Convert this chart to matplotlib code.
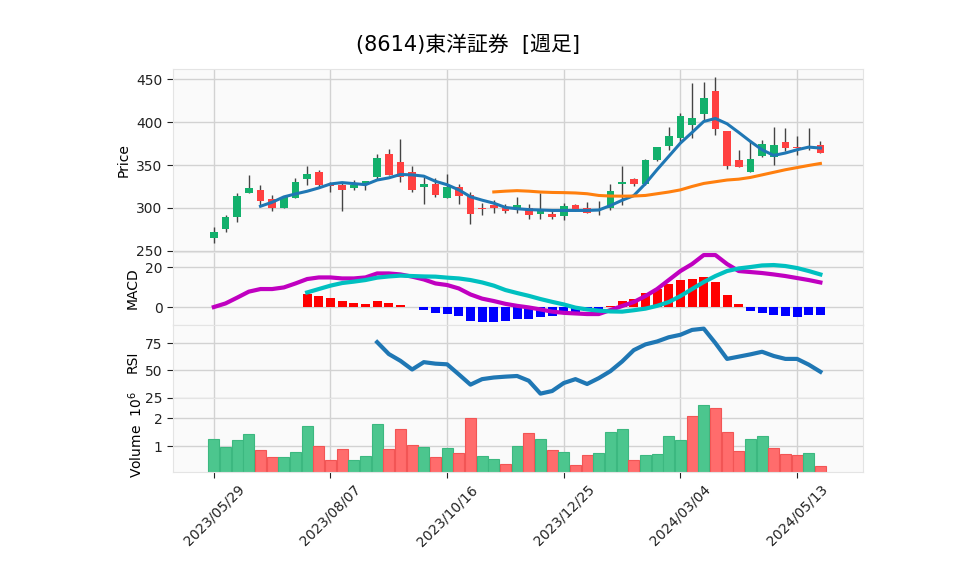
import numpy as np
import pandas as pd
import matplotlib
matplotlib.use("Agg")
import matplotlib.pyplot as plt

plt.rcParams['font.family'] = ['DejaVu Sans', 'Noto Sans CJK JP']

title = "(8614)東洋証券  [週足]"
start_date = "2023-05-29"

# weekly OHLC (yen)
opens = [265.1, 275.6, 289.5, 317.1, 321.3, 310.5, 299.6, 311.2, 333.3, 342.2,
         327.9, 326.4, 322.9, 326.3, 336.0, 363.1, 353.8, 342.2, 324.4, 327.9,
         312.0, 324.6, 315.5, 299.4, 302.9, 300.2, 298.8, 300.0, 292.6, 293.4,
         290.3, 303.5, 300.0, 296.0, 299.6, 327.7, 334.1, 327.5, 355.4, 372.6,
         381.2, 397.2, 409.3, 436.4, 389.9, 356.2, 341.5, 360.0, 359.7, 377.1,
         370.5, 370.2, 372.8]
highs = [277.9, 291.9, 317.4, 338.4, 326.7, 314.7, 312.4, 334.9, 349.2, 344.6,
         330.0, 329.8, 332.2, 331.8, 363.0, 368.6, 380.2, 349.2, 335.5, 334.9,
         339.5, 327.9, 318.6, 305.4, 309.0, 304.7, 312.8, 304.6, 317.4, 298.8,
         305.8, 304.5, 306.9, 308.0, 327.9, 349.0, 334.5, 356.5, 371.5, 394.9,
         410.5, 445.3, 446.5, 452.3, 389.9, 367.5, 379.0, 379.0, 394.9, 393.0,
         383.3, 392.9, 378.2]
lows = [258.5, 272.1, 283.7, 317.1, 301.9, 296.1, 299.6, 311.2, 326.4, 324.0,
        318.0, 296.9, 320.5, 320.6, 333.0, 337.9, 329.8, 318.2, 305.0, 312.4,
        312.0, 305.0, 281.6, 291.7, 294.6, 294.0, 294.2, 287.2, 287.6, 287.2,
        285.6, 296.0, 293.5, 292.0, 298.0, 303.1, 325.2, 326.5, 355.0, 367.8,
        375.6, 381.4, 402.7, 385.3, 345.3, 347.5, 341.5, 359.2, 350.3, 365.9,
        361.2, 367.0, 363.9]
closes = [272.1, 289.5, 314.3, 323.6, 307.8, 299.6, 312.4, 330.6, 339.9, 327.1,
          325.2, 320.5, 326.7, 331.7, 358.5, 338.0, 336.5, 320.3, 328.0, 314.9,
          324.8, 313.6, 292.5, 299.0, 299.6, 296.1, 303.5, 292.2, 298.0, 289.1,
          302.7, 297.3, 293.8, 296.8, 320.2, 330.6, 327.9, 356.2, 371.1, 383.9,
          407.4, 404.8, 428.1, 391.6, 348.4, 348.2, 357.0, 374.8, 373.2, 369.7,
          369.3, 370.5, 363.9]
# volume in millions of shares
volumes = [1.27, 0.96, 1.24, 1.43, 0.88, 0.63, 0.63, 0.81, 1.71, 1.02,
           0.52, 0.92, 0.52, 0.67, 1.81, 0.90, 1.63, 1.06, 0.99, 0.63,
           0.95, 0.77, 2.02, 0.64, 0.54, 0.36, 1.00, 1.46, 1.25, 0.86,
           0.79, 0.32, 0.68, 0.75, 1.50, 1.61, 0.50, 0.68, 0.71, 1.36,
           1.21, 2.07, 2.46, 2.36, 1.50, 0.82, 1.25, 1.36, 0.93, 0.71,
           0.68, 0.75, 0.29]

# indicator lines as drawn (each series ends at the last week)
ma5 = [301.9, 306.6, 312.8, 316.3, 319.4, 323.3, 327.9, 329.5, 328.3, 327.1,
       332.5, 335.0, 339.0, 338.5, 337.0, 331.0, 327.0, 321.0, 313.0, 309.0,
       305.5, 300.5, 299.0, 298.0, 297.5, 297.0, 297.0, 297.0, 297.0, 297.5,
       302.7, 308.9, 314.3, 328.3, 344.6, 360.1, 375.6, 388.0, 400.8, 404.3,
       398.1, 388.0, 377.5, 367.8, 361.2, 364.0, 367.8, 370.9, 369.8]
ma25 = [318.6, 319.5, 320.1, 319.5, 318.5, 318.0, 317.8, 317.4, 316.5, 314.5,
        313.8, 313.7, 313.8, 314.5, 316.5, 318.5, 321.0, 325.0, 328.5, 330.5,
        332.5, 333.5, 335.5, 338.5, 341.5, 344.5, 347.0, 349.5, 351.8]
macd = [0.0, 1.8, 4.7, 7.7, 9.0, 9.0, 9.8, 11.8, 14.0, 14.8,
        14.8, 14.3, 14.3, 14.8, 16.8, 16.8, 16.3, 15.2, 13.8, 11.8,
        11.0, 9.3, 6.3, 4.2, 3.0, 1.6, 0.6, -0.2, -1.2, -2.3,
        -2.9, -3.2, -3.5, -3.5, -1.5, 0.5, 2.5, 5.5, 9.0, 13.5,
        18.0, 21.5, 26.0, 26.0, 21.5, 18.0, 17.5, 17.0, 16.3, 15.5,
        14.5, 13.5, 12.3]
signal = [7.3, 9.0, 10.7, 12.0, 12.7, 13.5, 14.7, 15.3, 15.7, 15.5,
          15.3, 15.2, 14.7, 14.3, 13.5, 12.3, 10.7, 8.5, 7.0, 5.6,
          4.0, 2.6, 1.3, -0.3, -1.2, -1.8, -2.2, -2.3, -1.6, -0.8,
          0.6, 2.5, 5.5, 9.0, 12.5, 15.5, 18.0, 19.3, 20.0, 20.8,
          21.0, 20.5, 19.5, 18.0, 16.3]
hist = [6.7, 5.5, 4.5, 3.0, 2.2, 1.5, 3.0, 2.2, 1.2, -0.2,
        -1.5, -2.8, -3.3, -4.3, -6.8, -7.3, -7.3, -6.8, -6.0, -6.0,
        -4.8, -4.3, -3.0, -2.5, -2.0, -1.0, 0.5, 3.0, 4.0, 7.2,
        9.0, 11.5, 13.5, 14.0, 15.0, 12.5, 6.0, 1.5, -1.8, -2.8,
        -4.0, -4.3, -4.8, -3.8, -3.8]
rsi = [76.2, 65.2, 58.9, 50.9, 57.7, 56.3, 55.7, 46.4, 36.9, 42.0,
       43.5, 44.3, 44.9, 40.5, 28.6, 31.0, 38.4, 42.0, 37.5, 42.9,
       49.4, 58.3, 68.8, 74.1, 76.8, 80.7, 83.0, 87.5, 88.7, 75.3,
       60.7, 62.8, 64.9, 67.3, 63.4, 60.7, 60.7, 55.4, 48.8]

up_color = "#13b06c"
down_color = "#ff4040"
vol_up = "#4cc68e"
vol_down = "#ff6c6c"


def tail_x(series, n):
    # indicator series are aligned to the right end of the data
    return np.arange(n - len(series), n)


n = len(closes)
x = np.arange(n)
dates = pd.date_range(start_date, periods=n, freq="7D")

fig, axes = plt.subplots(4, 1, figsize=(9.58, 5.75), dpi=100, sharex=True,
                         gridspec_kw={"height_ratios": [183, 73, 73, 74], "hspace": 0})
fig.subplots_adjust(left=0.1806, right=0.9008, top=0.88, bottom=0.179)
ax_p, ax_m, ax_r, ax_v = axes

for ax in axes:
    ax.set_facecolor("#fafafa")
    ax.set_axisbelow(True)
    ax.grid(True, color="#d2d2d2", linewidth=1.0)
    for sp in ax.spines.values():
        sp.set_color("#e4e4e4")
    ax.tick_params(axis="both", labelsize=10, colors="#222222", length=4, width=0.8)

# price panel: wicks, bodies, moving averages
o = np.array(opens)
c = np.array(closes)
candle_colors = [up_color if cl > op else down_color for op, cl in zip(o, c)]
ax_p.vlines(x, lows, highs, color="#444444", linewidth=1.0, zorder=2)
body = np.where(np.abs(c - o) < 0.8, 0.8 * np.sign(c - o + 1e-9), c - o)
ax_p.bar(x, body, bottom=o, width=0.65, color=candle_colors, zorder=3)
ax_p.plot(tail_x(ma5, n), ma5, color="#1f77b4", linewidth=2.2, zorder=4)
ax_p.plot(tail_x(ma25, n), ma25, color="#ff7f0e", linewidth=2.2, zorder=4)
ax_p.set_ylim(248.5, 462)
ax_p.set_yticks([250, 300, 350, 400, 450])
ax_p.set_ylabel("Price", fontsize=10)

# MACD panel
hx = tail_x(hist, n)
hist_colors = ["red" if h >= 0 else "blue" for h in hist]
ax_m.bar(hx, hist, width=0.78, color=hist_colors, zorder=2)
ax_m.plot(tail_x(macd, n), macd, color="#c000c0", linewidth=3, zorder=3)
ax_m.plot(tail_x(signal, n), signal, color="#00c0c0", linewidth=3, zorder=3)
ax_m.set_ylim(-9, 27.5)
ax_m.set_yticks([0, 20])
ax_m.set_ylabel("MACD", fontsize=10)

# RSI panel
ax_r.plot(tail_x(rsi, n), rsi, color="#1f77b4", linewidth=3)
ax_r.set_ylim(24.5, 92)
ax_r.set_yticks([25, 50, 75])
ax_r.set_ylabel("RSI", fontsize=10)

# volume panel, coloured by close vs previous close
vol_colors = [vol_up]
for i in range(1, n):
    vol_colors.append(vol_up if closes[i] > closes[i - 1] else vol_down)
vol_edges = ["#3cb880" if col == vol_up else "#f25555" for col in vol_colors]
ax_v.bar(x, volumes, width=0.95, color=vol_colors, edgecolor=vol_edges, linewidth=0.8)
ax_v.set_ylim(0.08, 2.72)
ax_v.set_yticks([1, 2])
ax_v.set_ylabel("Volume  $10^{6}$", fontsize=10, labelpad=6)

ax_v.set_xlim(-3.5, 55.65)
tick_pos = list(range(0, n, 10))
ax_v.set_xticks(tick_pos)
ax_v.set_xticklabels([dates[i].strftime("%Y/%m/%d") for i in tick_pos], rotation=45)
for ax in axes[:-1]:
    ax.tick_params(axis="x", length=0)

fig.suptitle(title, x=0.489, y=0.94, fontsize=15)

plt.savefig("out.png", dpi=100)
